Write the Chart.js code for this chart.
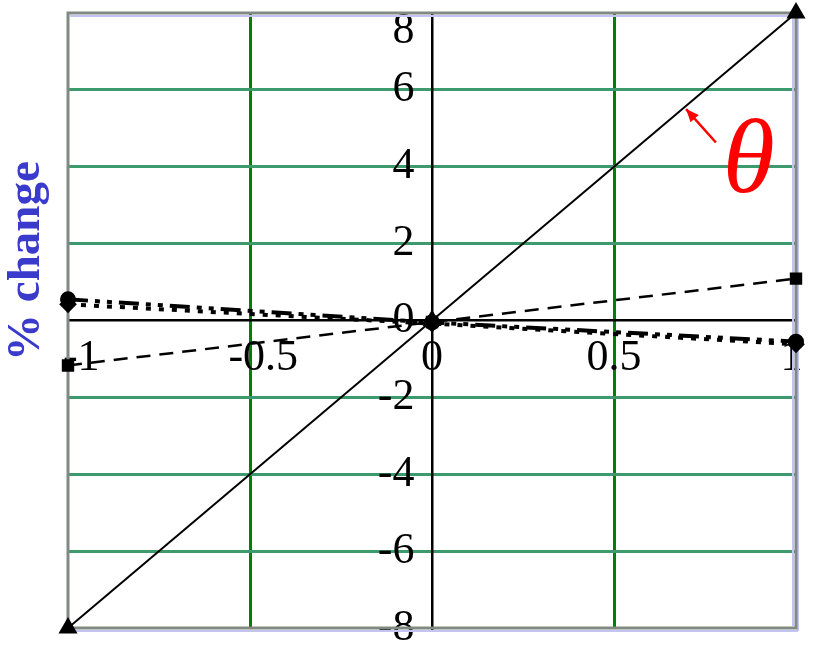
<!DOCTYPE html>
<html>
<head>
<meta charset="utf-8">
<script src="https://cdn.jsdelivr.net/npm/chart.js@4"></script>
<style>
  html, body { margin: 0; padding: 0; background: #fff; }
  #wrap { width: 813px; height: 645px; }
</style>
</head>
<body>
<div id="wrap"><canvas id="chart" width="813" height="645"></canvas></div>
<script>
// data
const xValues = [-1, 0, 1];
const thetaValues = [-8, 0, 8];          // solid, triangles
const squareValues = [-1.17, -0.04, 1.09]; // dashed, squares
const circleValues = [0.55, -0.05, -0.55]; // dash-dot, circles
const diamondValues = [0.42, -0.08, -0.62]; // dotted, diamonds
const xTicks = [-1, -0.5, 0, 0.5, 1];
const yTicks = [-8, -6, -4, -2, 0, 2, 4, 6, 8];
const axisTitle = '% change';
const annotationLabel = 'θ';

function toPoints(values) {
  return values.map((v, i) => ({ x: xValues[i], y: v }));
}

// frame round the plot area, axis title and the red theta note
const extrasPlugin = {
  id: 'extras',
  beforeDatasetsDraw(chart) {
    const ctx = chart.ctx;
    const a = chart.chartArea;
    ctx.save();
    ctx.strokeStyle = '#c4c4f2';
    ctx.lineWidth = 2;
    ctx.beginPath();
    ctx.moveTo(a.left + 2, a.top + 3); ctx.lineTo(a.right - 2, a.top + 3);
    ctx.moveTo(a.right + 2, a.top + 2); ctx.lineTo(a.right + 2, a.bottom + 3);
    ctx.moveTo(a.left + 2, a.bottom + 3); ctx.lineTo(a.right + 2, a.bottom + 3);
    ctx.moveTo(a.right - 3, a.top + 2); ctx.lineTo(a.right - 3, a.bottom - 2);
    ctx.stroke();
    ctx.strokeStyle = '#808a82';
    ctx.lineWidth = 3;
    ctx.strokeRect(a.left, a.top, a.right - a.left, a.bottom - a.top);
    ctx.restore();
  },
  afterDatasetsDraw(chart) {
    const ctx = chart.ctx;
    const xs = chart.scales.x;
    const ys = chart.scales.y;
    ctx.save();
    // rotated axis title
    ctx.translate(27, 261);
    ctx.rotate(-Math.PI / 2);
    ctx.fillStyle = '#3a3acc';
    ctx.font = 'bold 47px "Liberation Serif", "DejaVu Serif", serif';
    ctx.textAlign = 'center';
    ctx.textBaseline = 'middle';
    ctx.fillText(axisTitle, 0, 0);
    ctx.restore();

    // red arrow pointing at the theta line
    const x0 = xs.getPixelForValue(0.78), y0 = ys.getPixelForValue(4.63);
    const x1 = xs.getPixelForValue(0.698), y1 = ys.getPixelForValue(5.5);
    ctx.save();
    ctx.strokeStyle = '#ff0000';
    ctx.fillStyle = '#ff0000';
    ctx.lineWidth = 2.5;
    ctx.beginPath();
    ctx.moveTo(x0, y0);
    ctx.lineTo(x1, y1);
    ctx.stroke();
    const ang = Math.atan2(y1 - y0, x1 - x0);
    ctx.beginPath();
    ctx.moveTo(x1, y1);
    ctx.lineTo(x1 - 14 * Math.cos(ang - 0.4), y1 - 14 * Math.sin(ang - 0.4));
    ctx.lineTo(x1 - 14 * Math.cos(ang + 0.4), y1 - 14 * Math.sin(ang + 0.4));
    ctx.closePath();
    ctx.fill();
    ctx.font = 'italic 106px "Liberation Serif", "DejaVu Serif", serif';
    ctx.textAlign = 'center';
    ctx.textBaseline = 'middle';
    ctx.fillText(annotationLabel, xs.getPixelForValue(0.87), ys.getPixelForValue(4.08));
    ctx.restore();
  }
};

const chartData = {
  datasets: [
    {
      label: 'theta', data: toPoints(thetaValues), clip: false,
      borderColor: '#000', backgroundColor: '#000', borderWidth: 2,
      pointStyle: 'triangle', pointRadius: 9
    },
    {
      label: 'circles', data: toPoints(circleValues), clip: false,
      borderColor: '#000', backgroundColor: '#000', borderWidth: 4, borderDash: [20, 7, 5, 7, 5, 7],
      pointStyle: 'circle', pointRadius: 6
    },
    {
      label: 'diamonds', data: toPoints(diamondValues), clip: false,
      borderColor: '#000', backgroundColor: '#000', borderWidth: 4, borderDash: [5, 8],
      pointStyle: 'rectRot', pointRadius: 6
    },
    {
      label: 'squares', data: toPoints(squareValues), clip: false,
      borderColor: '#000', backgroundColor: '#000', borderWidth: 2.5, borderDash: [14, 9],
      pointStyle: 'rect', pointRadius: 7
    }
  ]
};

const tickFamily = '"Liberation Serif", "Times New Roman", serif';
const tickFont = { family: tickFamily, size: 44 };
const thin = '\u2009';

// axes sit inside the plot, so they should not push the plot area in
function noScalePadding(scale) {
  scale.paddingTop = 0;
  scale.paddingBottom = 0;
  scale.paddingLeft = 0;
  scale.paddingRight = 0;
}

function xLabel(v) {
  // negative labels sit a little right of their line, the last one a little left
  if (v < 0) return thin.repeat(3) + String(v);
  if (v === 1) return String(v) + thin;
  return String(v);
}

const chartOptions = {
  responsive: false,
  devicePixelRatio: 1,
  animation: false,
  layout: { autoPadding: false, padding: { left: 68, right: 17, top: 13, bottom: 17 } },
  plugins: { legend: { display: false }, tooltip: { enabled: false } },
  elements: { line: { tension: 0 }, point: { borderWidth: 0 } },
  scales: {
    x: {
      type: 'linear', min: -1, max: 1,
      position: { y: 0 },
      afterBuildTicks: (axis) => { axis.ticks = xTicks.map(v => ({ value: v })); },
      afterFit: noScalePadding,
      ticks: {
        font: tickFont, color: '#000', padding: 12, autoSkip: false, maxRotation: 0,
        callback: xLabel
      },
      grid: {
        drawTicks: false, lineWidth: 3,
        color: (c) => (c.tick && Math.abs(c.tick.value) === 0.5) ? '#008000' : 'rgba(0,0,0,0)'
      },
      border: { display: true, color: '#000', width: 2.5 }
    },
    y: {
      type: 'linear', min: -8, max: 8,
      position: { x: 0 },
      afterBuildTicks: (axis) => { axis.ticks = yTicks.map(v => ({ value: v })); },
      afterFit: noScalePadding,
      ticks: {
        // the top label sits below its line in the picture
        font: (c) => (c.tick && c.tick.value === 8) ? { family: tickFamily, size: 44, lineHeight: 0.82 } : tickFont,
        color: '#000', autoSkip: false,
        callback: (v) => v === 8 ? ['', String(v) + thin + thin] : String(v) + thin + thin
      },
      grid: {
        drawTicks: false, lineWidth: 3,
        color: (c) => (c.tick && c.tick.value !== 0 && Math.abs(c.tick.value) !== 8) ? '#3c9a6c' : 'rgba(0,0,0,0)'
      },
      border: { display: true, color: '#000', width: 2.5 }
    }
  }
};

new Chart(document.getElementById('chart').getContext('2d'), {
  type: 'line', data: chartData, options: chartOptions, plugins: [extrasPlugin]
});
</script>
</body>
</html>
